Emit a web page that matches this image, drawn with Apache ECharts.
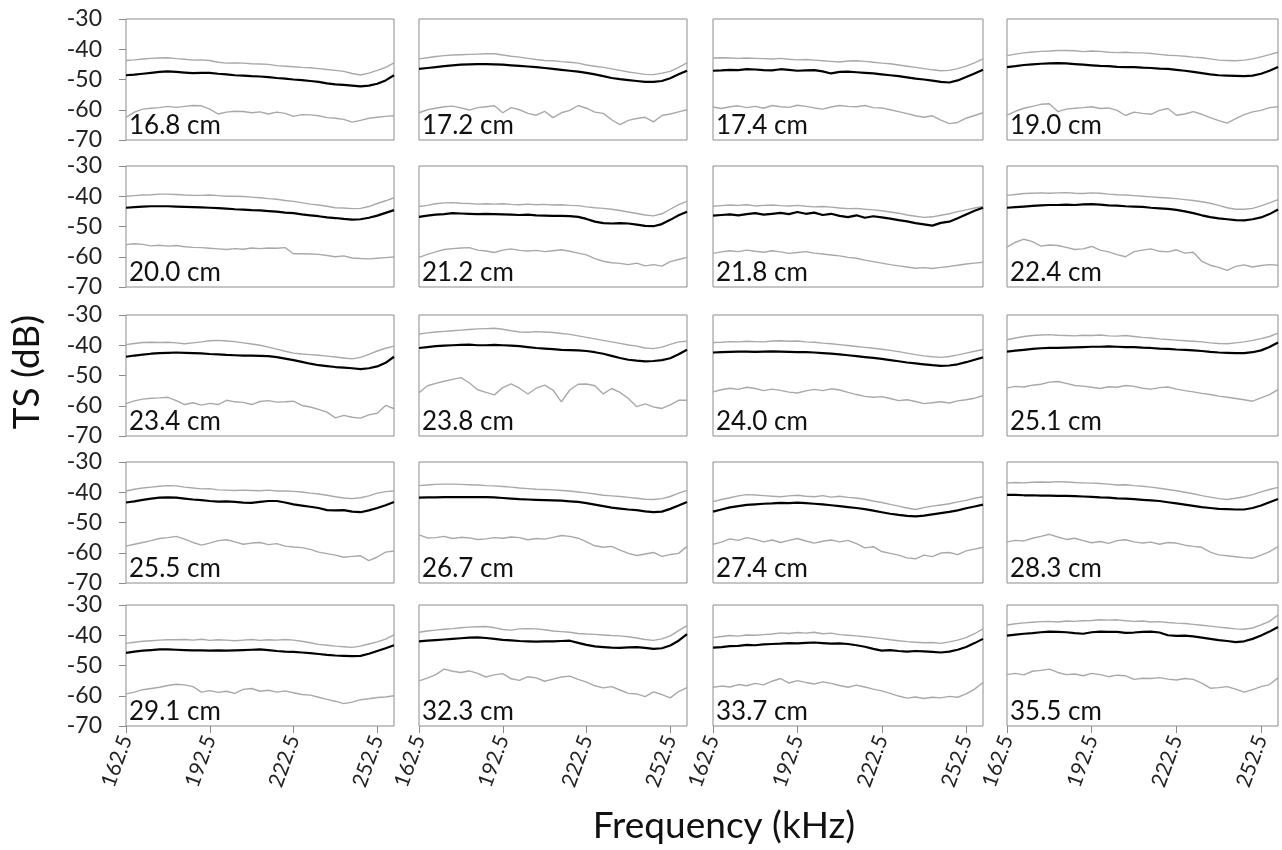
<!DOCTYPE html>
<html>
<head>
<meta charset="utf-8">
<title>TS vs frequency</title>
<script src="https://cdn.jsdelivr.net/npm/echarts@6.0.0/dist/echarts.min.js"></script>
<style>
  html, body { margin: 0; padding: 0; background: #fff; }
  #chart { width: 1282px; height: 850px; }
</style>
</head>
<body>
<div id="chart"></div>
<script>
// frequency categories (kHz), 3 kHz step
var freqs = [162.5,165.5,168.5,171.5,174.5,177.5,180.5,183.5,186.5,189.5,192.5,
  195.5,198.5,201.5,204.5,207.5,210.5,213.5,216.5,219.5,222.5,225.5,
  228.5,231.5,234.5,237.5,240.5,243.5,246.5,249.5,252.5,255.5,258.5];

var lengths = ['16.8 cm','17.2 cm','17.4 cm','19.0 cm','20.0 cm','21.2 cm','21.8 cm','22.4 cm',
  '23.4 cm','23.8 cm','24.0 cm','25.1 cm','25.5 cm','26.7 cm','27.4 cm','28.3 cm',
  '29.1 cm','32.3 cm','33.7 cm','35.5 cm'];

// TS (dB): upper gray, mean (black), lower gray
var up168 = [-43.7,-43.5,-43.2,-43.0,-42.9,-42.8,-43.1,-43.3,-43.6,-43.5,-43.7, -44.3,-44.6,-44.5,-44.6,-44.8,-44.9,-45.0,-45.4,-45.6,-45.8,-46.0, -46.1,-46.4,-46.7,-47.0,-47.3,-48.0,-48.5,-47.9,-47.0,-46.0,-44.5];
var mid168 = [-48.6,-48.4,-48.1,-47.8,-47.5,-47.3,-47.5,-47.7,-47.9,-47.8,-47.8, -48.1,-48.3,-48.6,-48.7,-48.9,-49.0,-49.2,-49.5,-49.7,-50.0,-50.2, -50.5,-50.8,-51.3,-51.6,-51.8,-52.0,-52.3,-52.0,-51.4,-50.3,-48.6];
var low168 = [-62.5,-60.8,-59.8,-59.5,-59.3,-58.9,-59.2,-58.9,-58.6,-58.7,-59.8, -61.4,-60.8,-60.5,-60.6,-61.0,-60.7,-61.4,-60.8,-61.2,-62.2,-61.6, -61.7,-62.0,-62.6,-62.8,-63.2,-64.1,-63.5,-62.8,-62.5,-62.2,-62.0];

var up172 = [-43.2,-42.8,-42.4,-42.1,-41.9,-41.8,-41.7,-41.6,-41.5,-41.5,-41.9, -42.3,-42.6,-43.0,-43.4,-43.7,-43.8,-44.1,-44.3,-44.6,-45.2,-45.6, -46.0,-46.5,-47.0,-47.5,-47.9,-48.3,-48.4,-47.9,-47.3,-46.0,-44.5];
var mid172 = [-46.5,-46.2,-45.9,-45.6,-45.3,-45.1,-45.0,-44.9,-44.9,-45.0,-45.1, -45.3,-45.5,-45.7,-45.9,-46.2,-46.5,-46.8,-47.1,-47.4,-47.8,-48.3, -48.9,-49.5,-49.9,-50.2,-50.5,-50.8,-50.8,-50.5,-49.6,-48.3,-47.1];
var low172 = [-61.0,-60.0,-59.5,-59.0,-58.8,-59.4,-60.1,-59.3,-59.0,-58.7,-61.0, -59.3,-60.0,-61.2,-61.8,-60.5,-62.6,-61.0,-60.2,-58.6,-59.5,-60.8, -61.2,-63.3,-64.9,-63.5,-62.9,-62.5,-64.0,-61.9,-61.4,-60.7,-60.0];

var up174 = [-42.9,-42.8,-42.9,-43.0,-42.9,-43.0,-43.1,-43.2,-43.0,-43.3,-43.5, -43.4,-43.6,-43.8,-44.0,-44.2,-43.9,-43.8,-44.0,-44.3,-44.6,-44.8, -45.2,-45.6,-46.0,-46.4,-46.8,-47.1,-47.0,-46.4,-45.6,-44.5,-43.2];
var mid174 = [-47.1,-47.0,-46.8,-46.9,-46.6,-46.7,-46.9,-47.0,-46.6,-46.8,-47.1, -47.0,-46.9,-47.3,-48.0,-47.5,-47.4,-47.6,-47.8,-48.0,-48.3,-48.6, -48.9,-49.3,-49.7,-50.0,-50.4,-50.8,-51.0,-50.3,-49.2,-48.0,-46.8];
var low174 = [-59.1,-59.6,-59.0,-58.7,-59.3,-58.9,-59.5,-58.6,-59.0,-59.2,-58.5, -58.9,-59.4,-59.8,-59.1,-58.6,-58.9,-59.0,-58.6,-59.3,-59.4,-60.0, -60.6,-61.3,-62.0,-62.5,-62.0,-63.4,-64.6,-64.2,-62.8,-61.9,-61.0];

var up190 = [-42.1,-41.6,-41.2,-40.9,-40.7,-40.6,-40.4,-40.4,-40.5,-40.8,-40.6, -40.7,-41.0,-41.1,-41.0,-41.2,-41.2,-41.4,-41.7,-42.0,-42.1,-42.3, -42.6,-42.8,-43.2,-43.6,-43.7,-43.8,-43.6,-43.2,-42.5,-41.8,-41.0];
var mid190 = [-45.9,-45.6,-45.2,-45.0,-44.8,-44.7,-44.6,-44.7,-44.9,-45.1,-45.3, -45.5,-45.6,-45.8,-45.9,-45.9,-46.1,-46.2,-46.4,-46.5,-46.8,-47.1, -47.5,-47.9,-48.3,-48.6,-48.7,-48.8,-48.9,-48.7,-48.1,-47.1,-45.9];
var low190 = [-61.8,-60.5,-59.5,-58.9,-58.2,-58.0,-60.6,-59.8,-59.5,-59.3,-59.0, -59.6,-59.4,-60.2,-61.9,-60.8,-61.2,-61.5,-60.2,-59.6,-61.8,-61.4, -60.6,-61.5,-62.6,-63.6,-64.4,-62.9,-61.6,-60.7,-60.2,-59.3,-59.0];

var up200 = [-40.0,-39.8,-39.6,-39.5,-39.3,-39.3,-39.4,-39.6,-39.7,-39.7,-39.6, -39.8,-40.0,-40.0,-40.1,-40.3,-40.5,-40.8,-41.0,-41.4,-41.7,-42.1, -42.6,-42.9,-43.3,-43.8,-43.9,-44.1,-44.0,-43.4,-42.4,-41.5,-40.5];
var mid200 = [-43.8,-43.6,-43.4,-43.3,-43.3,-43.3,-43.4,-43.5,-43.6,-43.7,-43.8, -43.9,-44.1,-44.3,-44.4,-44.6,-44.7,-44.9,-45.1,-45.4,-45.6,-46.0, -46.3,-46.6,-47.0,-47.2,-47.5,-47.7,-47.6,-47.1,-46.4,-45.5,-44.6];
var low200 = [-56.0,-55.7,-55.9,-56.4,-56.2,-56.5,-56.3,-56.7,-56.9,-57.0,-57.2, -57.4,-57.6,-57.3,-57.5,-57.1,-57.3,-57.1,-57.2,-57.0,-59.0,-59.0, -59.1,-59.2,-59.6,-60.0,-59.7,-60.4,-60.6,-60.7,-60.5,-60.3,-60.1];

var up212 = [-43.4,-43.0,-42.5,-42.2,-42.1,-42.3,-42.4,-42.6,-42.5,-42.6,-42.5, -42.7,-42.8,-42.6,-42.8,-42.7,-42.9,-42.8,-43.0,-43.1,-43.5,-43.8, -44.0,-44.3,-44.7,-45.2,-45.7,-46.2,-46.5,-45.8,-44.3,-42.8,-41.7];
var mid212 = [-46.8,-46.4,-46.1,-45.9,-45.6,-45.7,-45.8,-45.9,-45.8,-45.9,-46.0, -46.1,-46.2,-46.1,-46.3,-46.4,-46.5,-46.5,-46.6,-46.8,-47.5,-48.4, -48.9,-49.0,-48.9,-49.0,-49.4,-49.8,-49.9,-49.2,-47.8,-46.3,-45.1];
var low212 = [-60.2,-59.2,-58.4,-57.6,-57.3,-57.1,-57.0,-57.8,-58.1,-58.6,-57.8, -57.4,-57.9,-58.1,-57.9,-58.3,-58.0,-57.7,-58.2,-58.8,-59.4,-60.6, -61.5,-62.0,-62.2,-62.6,-62.1,-63.0,-62.6,-63.1,-61.6,-60.9,-60.2];

var up218 = [-43.3,-43.1,-42.9,-43.0,-42.8,-43.2,-43.0,-42.9,-43.1,-43.2,-43.0, -43.3,-43.5,-43.4,-43.6,-43.9,-44.1,-44.0,-44.3,-44.5,-44.8,-45.2, -45.6,-46.2,-46.6,-47.0,-46.8,-46.3,-45.8,-45.1,-44.5,-43.9,-43.4];
var mid218 = [-46.4,-46.2,-46.0,-46.3,-45.9,-45.6,-46.1,-45.8,-45.5,-45.9,-45.2, -45.8,-45.4,-46.2,-45.8,-46.5,-46.9,-46.3,-47.1,-46.6,-47.0,-47.4, -47.9,-48.3,-48.9,-49.3,-49.7,-48.8,-48.4,-47.3,-46.0,-44.8,-43.8];
var low218 = [-58.9,-58.4,-58.0,-58.3,-57.8,-58.2,-58.5,-58.0,-58.4,-58.9,-58.6, -58.3,-58.8,-59.1,-59.4,-59.7,-60.2,-60.5,-61.1,-61.6,-62.1,-62.6, -63.0,-63.4,-63.8,-63.6,-63.9,-63.5,-63.2,-62.8,-62.4,-62.1,-61.8];

var up224 = [-39.7,-39.4,-39.1,-39.0,-38.9,-39.0,-38.9,-38.8,-39.0,-39.1,-38.9, -39.0,-39.3,-39.5,-39.6,-39.8,-40.0,-40.2,-40.4,-40.6,-40.8,-41.1, -41.4,-41.8,-42.3,-43.0,-43.8,-44.3,-44.3,-44.0,-43.2,-42.2,-41.1];
var mid224 = [-43.8,-43.6,-43.4,-43.2,-43.0,-42.9,-42.9,-42.8,-42.9,-42.7,-42.6, -42.8,-43.0,-43.1,-43.3,-43.4,-43.5,-43.8,-44.0,-44.2,-44.5,-45.0, -45.6,-46.3,-46.9,-47.3,-47.6,-47.9,-48.0,-47.6,-47.0,-45.9,-44.4];
var low224 = [-56.8,-55.2,-54.2,-55.0,-56.5,-56.1,-56.3,-56.9,-57.6,-57.4,-56.6, -57.8,-58.4,-59.3,-60.0,-58.3,-57.8,-57.4,-58.2,-58.4,-57.7,-58.8, -58.5,-61.5,-62.8,-63.5,-64.5,-63.2,-62.7,-63.4,-62.9,-62.6,-62.8];

var up234 = [-39.8,-39.4,-39.1,-39.0,-39.1,-39.0,-39.2,-39.5,-39.2,-38.9,-38.5, -38.4,-38.6,-38.8,-39.2,-39.6,-40.0,-40.6,-41.3,-42.0,-42.6,-42.9, -43.1,-43.3,-43.6,-43.9,-44.2,-44.5,-44.0,-43.0,-41.9,-41.0,-40.3];
var mid234 = [-43.8,-43.4,-43.1,-42.8,-42.6,-42.5,-42.4,-42.5,-42.6,-42.7,-42.9, -43.0,-43.2,-43.3,-43.4,-43.4,-43.5,-43.6,-43.9,-44.4,-44.9,-45.5, -46.1,-46.6,-46.9,-47.2,-47.4,-47.6,-47.9,-47.6,-47.0,-45.8,-43.8];
var low234 = [-59.3,-58.4,-57.8,-57.5,-57.4,-57.2,-58.3,-59.6,-59.0,-59.8,-59.2, -59.6,-58.2,-58.7,-58.9,-59.6,-58.6,-58.3,-58.8,-58.7,-58.5,-59.9, -60.4,-61.2,-62.1,-64.0,-63.2,-63.8,-64.1,-63.0,-62.5,-59.9,-61.0];

var up238 = [-36.3,-35.9,-35.6,-35.4,-35.2,-35.0,-34.8,-34.6,-34.5,-34.4,-34.7, -35.2,-35.6,-35.7,-35.5,-35.6,-35.8,-36.1,-36.4,-36.9,-37.4,-37.9, -38.4,-38.9,-39.4,-39.9,-40.3,-40.9,-41.1,-40.6,-39.7,-38.9,-38.7];
var mid238 = [-40.9,-40.6,-40.3,-40.1,-40.0,-39.9,-39.8,-40.0,-40.0,-39.9,-40.0, -40.1,-40.3,-40.6,-40.9,-41.1,-41.3,-41.5,-41.6,-41.7,-41.9,-42.3, -42.8,-43.5,-44.2,-44.8,-45.1,-45.3,-45.2,-44.9,-44.3,-43.0,-41.5];
var low238 = [-55.7,-53.4,-52.6,-51.9,-51.3,-50.7,-52.4,-54.7,-55.6,-56.4,-54.0, -52.8,-54.2,-56.1,-54.2,-53.2,-54.8,-58.7,-54.8,-52.9,-52.8,-53.4, -56.1,-54.3,-55.6,-57.6,-60.3,-59.4,-60.4,-60.9,-59.7,-58.2,-58.2];

var up240 = [-39.1,-39.0,-38.8,-38.9,-38.7,-38.8,-38.9,-38.6,-38.5,-38.7,-38.6, -38.9,-39.0,-39.3,-39.5,-39.8,-40.1,-40.4,-40.7,-41.0,-41.3,-41.7, -42.1,-42.6,-43.1,-43.5,-43.8,-44.0,-43.7,-43.2,-42.6,-42.0,-41.4];
var mid240 = [-42.4,-42.3,-42.2,-42.1,-42.1,-42.2,-42.1,-42.0,-42.1,-42.2,-42.3, -42.3,-42.4,-42.6,-42.8,-43.0,-43.3,-43.6,-43.9,-44.2,-44.5,-44.9, -45.3,-45.7,-46.0,-46.3,-46.6,-46.8,-46.7,-46.3,-45.6,-44.8,-44.0];
var low240 = [-55.4,-54.7,-54.2,-54.6,-53.9,-54.3,-55.0,-54.5,-54.9,-55.5,-55.8, -55.1,-54.6,-55.0,-54.4,-54.8,-55.6,-56.3,-56.9,-57.2,-57.0,-57.6, -58.3,-58.0,-58.6,-59.3,-59.0,-58.7,-59.1,-58.4,-58.0,-57.5,-56.7];

var up251 = [-38.2,-37.6,-37.1,-36.8,-36.6,-36.5,-36.7,-36.8,-36.9,-36.7,-36.8, -36.6,-36.9,-37.0,-36.8,-37.1,-37.4,-37.6,-37.9,-38.1,-38.3,-38.5, -38.7,-38.9,-39.2,-39.4,-39.5,-39.2,-38.9,-38.4,-37.8,-37.1,-36.0];
var mid251 = [-42.1,-41.8,-41.5,-41.2,-41.0,-40.9,-40.9,-40.8,-40.7,-40.6,-40.5, -40.5,-40.4,-40.5,-40.6,-40.6,-40.8,-40.9,-41.1,-41.2,-41.4,-41.5, -41.7,-41.9,-42.2,-42.4,-42.5,-42.6,-42.6,-42.3,-41.7,-40.6,-39.1];
var low251 = [-54.1,-53.6,-53.8,-53.2,-52.9,-52.2,-52.0,-52.6,-53.3,-53.5,-53.9, -54.3,-53.7,-53.9,-53.3,-53.6,-54.2,-54.5,-54.0,-53.8,-54.5,-55.0, -55.4,-55.9,-56.3,-56.8,-57.2,-57.6,-58.0,-58.5,-57.4,-56.3,-54.7];

var up255 = [-39.6,-39.0,-38.6,-38.3,-38.0,-37.8,-37.9,-38.3,-38.6,-38.9,-38.8, -39.2,-39.3,-39.4,-39.3,-39.4,-39.5,-39.3,-39.6,-39.6,-39.7,-39.9, -40.3,-40.6,-41.0,-41.5,-41.9,-42.1,-41.8,-41.2,-40.3,-39.8,-39.6];
var mid255 = [-43.4,-43.0,-42.5,-42.1,-41.8,-41.7,-41.8,-42.1,-42.4,-42.6,-42.9, -43.1,-43.0,-43.2,-43.4,-43.5,-43.2,-42.9,-42.9,-43.4,-44.0,-44.4, -44.8,-45.2,-45.9,-46.0,-45.9,-46.4,-46.6,-46.0,-45.2,-44.3,-43.2];
var low255 = [-57.8,-57.2,-56.6,-56.0,-55.3,-55.0,-54.6,-55.5,-56.6,-57.5,-56.8, -56.0,-55.7,-56.4,-57.2,-56.8,-56.6,-57.3,-57.0,-57.8,-58.1,-58.3, -58.9,-59.8,-60.3,-60.8,-61.5,-61.2,-61.0,-62.6,-61.4,-59.8,-59.4];

var up267 = [-37.8,-37.6,-37.4,-37.3,-37.3,-37.4,-37.5,-37.6,-37.8,-37.9,-38.1, -38.3,-38.6,-38.8,-39.0,-39.1,-39.2,-39.4,-39.6,-39.9,-40.2,-40.6, -41.0,-41.2,-41.4,-41.7,-42.0,-42.3,-42.4,-42.1,-41.4,-40.3,-39.4];
var mid267 = [-41.8,-41.7,-41.7,-41.6,-41.6,-41.6,-41.6,-41.6,-41.6,-41.7,-41.9, -42.1,-42.3,-42.4,-42.5,-42.6,-42.7,-42.8,-43.0,-43.2,-43.6,-44.1, -44.6,-45.1,-45.4,-45.7,-45.9,-46.3,-46.6,-46.4,-45.5,-44.4,-43.2];
var low267 = [-54.1,-55.1,-55.0,-54.6,-55.3,-54.9,-55.1,-55.6,-55.4,-55.0,-55.2, -54.8,-55.0,-55.7,-55.3,-55.5,-54.9,-54.3,-54.6,-55.2,-56.4,-57.7, -58.2,-57.9,-59.1,-60.2,-60.9,-60.4,-59.9,-61.2,-60.6,-60.2,-57.9];

var up274 = [-43.1,-42.4,-41.8,-41.2,-40.8,-40.9,-41.1,-41.3,-41.5,-41.2,-41.0, -41.3,-41.5,-41.1,-41.6,-41.3,-41.7,-41.9,-42.3,-42.9,-43.4,-44.0, -44.6,-45.2,-45.7,-45.1,-44.6,-44.2,-43.8,-43.2,-42.7,-42.0,-41.5];
var mid274 = [-46.4,-45.7,-45.0,-44.6,-44.2,-44.0,-43.8,-43.7,-43.5,-43.6,-43.4, -43.6,-43.8,-44.0,-44.3,-44.6,-44.9,-45.2,-45.6,-46.1,-46.6,-47.1, -47.5,-47.8,-48.0,-47.7,-47.3,-46.9,-46.5,-46.0,-45.3,-44.7,-44.1];
var low274 = [-57.2,-56.5,-55.4,-55.9,-55.0,-55.6,-56.4,-55.8,-56.6,-55.9,-55.3, -56.1,-56.8,-56.2,-55.8,-56.4,-55.9,-57.0,-58.4,-58.0,-59.6,-60.2, -60.8,-61.7,-62.0,-60.8,-61.3,-60.1,-59.9,-60.6,-59.4,-58.8,-58.2];

var up283 = [-37.0,-36.8,-36.9,-36.7,-36.6,-36.7,-36.5,-36.6,-36.8,-36.9,-37.0, -37.1,-37.3,-37.6,-37.5,-37.8,-38.0,-38.3,-38.7,-39.1,-39.5,-40.0, -40.5,-41.1,-41.6,-42.1,-42.4,-42.0,-41.5,-40.8,-39.9,-39.1,-38.4];
var mid283 = [-40.9,-40.9,-41.0,-41.0,-41.1,-41.1,-41.2,-41.2,-41.3,-41.4,-41.5, -41.7,-41.8,-42.0,-42.1,-42.3,-42.5,-42.7,-42.9,-43.3,-43.7,-44.1, -44.5,-44.9,-45.2,-45.5,-45.6,-45.7,-45.7,-45.2,-44.4,-43.3,-42.2];
var low283 = [-56.4,-55.9,-56.1,-55.2,-54.6,-53.9,-54.8,-55.6,-55.2,-56.0,-56.7, -56.3,-56.9,-56.0,-55.7,-56.4,-56.8,-56.5,-57.2,-56.6,-56.8,-57.5, -57.9,-58.2,-59.8,-60.7,-61.0,-61.3,-61.6,-61.8,-60.8,-59.6,-58.0];

var up291 = [-42.7,-42.3,-42.0,-41.8,-41.6,-41.5,-41.5,-41.4,-41.6,-41.3,-41.7, -41.5,-41.6,-41.8,-41.6,-41.4,-41.7,-41.5,-41.6,-41.4,-41.6,-42.0, -42.5,-43.0,-43.3,-43.6,-43.8,-44.0,-43.6,-42.9,-42.2,-41.3,-39.9];
var mid291 = [-45.8,-45.4,-45.1,-44.9,-44.7,-44.7,-44.8,-44.9,-45.0,-45.0,-45.1, -45.0,-45.1,-45.0,-44.9,-44.8,-44.7,-44.9,-45.2,-45.4,-45.5,-45.7, -45.9,-46.2,-46.5,-46.7,-46.8,-46.9,-46.8,-46.1,-45.2,-44.3,-43.3];
var low291 = [-59.4,-58.8,-58.0,-57.6,-57.2,-56.6,-56.2,-56.4,-57.0,-58.8,-58.3, -58.9,-58.5,-59.2,-57.9,-57.6,-58.5,-58.2,-58.8,-58.4,-59.0,-59.6, -59.8,-60.5,-61.2,-61.8,-62.6,-62.1,-61.3,-61.0,-60.6,-60.4,-60.0];

var up323 = [-39.0,-38.6,-38.3,-38.0,-37.8,-37.5,-37.3,-37.2,-37.1,-37.5,-38.1, -38.3,-37.9,-37.8,-37.9,-38.2,-38.6,-38.8,-39.0,-39.4,-39.6,-39.7, -39.9,-40.1,-40.2,-40.5,-40.9,-41.4,-41.7,-41.2,-40.2,-38.5,-36.8];
var mid323 = [-42.0,-41.8,-41.6,-41.4,-41.2,-41.0,-40.8,-40.7,-40.9,-41.2,-41.5, -41.7,-41.9,-42.0,-42.1,-42.0,-42.0,-41.9,-41.8,-42.5,-43.2,-43.7, -43.9,-44.1,-44.2,-44.0,-43.9,-44.2,-44.5,-44.3,-43.4,-41.8,-39.6];
var low323 = [-55.1,-54.2,-53.0,-51.2,-51.9,-52.3,-51.8,-52.6,-53.8,-53.1,-52.7, -54.4,-54.9,-53.7,-54.1,-55.2,-54.5,-53.8,-53.5,-54.6,-55.5,-56.7, -57.4,-57.0,-58.1,-59.2,-59.4,-60.3,-58.7,-59.6,-60.7,-58.6,-57.3];

var up337 = [-40.8,-40.4,-40.1,-40.3,-39.9,-40.0,-39.8,-39.6,-39.2,-39.4,-39.1, -39.3,-39.0,-39.5,-39.3,-39.8,-40.0,-40.2,-40.5,-40.8,-41.1,-41.5, -41.8,-42.1,-42.3,-42.5,-42.4,-42.7,-42.2,-41.6,-40.8,-39.5,-37.9];
var mid337 = [-44.1,-43.9,-43.6,-43.5,-43.2,-43.3,-43.0,-42.9,-42.8,-42.6,-42.7, -42.5,-42.4,-42.6,-42.8,-42.7,-42.9,-43.3,-43.8,-44.5,-45.1,-44.9, -45.2,-45.4,-45.2,-45.3,-45.5,-45.7,-45.4,-44.8,-43.9,-42.6,-41.2];
var low337 = [-57.2,-56.8,-57.1,-56.3,-56.7,-55.9,-56.4,-55.2,-54.3,-55.8,-55.0, -55.6,-56.1,-55.4,-55.9,-56.6,-57.2,-56.5,-57.1,-57.8,-58.4,-59.2, -60.1,-60.8,-60.4,-60.9,-60.5,-60.7,-60.2,-60.5,-59.4,-57.8,-55.6];

var up355 = [-36.6,-36.2,-35.9,-35.7,-35.5,-35.4,-35.6,-35.3,-35.4,-35.2,-35.1, -34.9,-35.0,-34.9,-35.2,-35.4,-35.3,-35.6,-35.5,-35.8,-36.0,-36.1, -36.4,-36.7,-37.0,-37.3,-37.6,-37.9,-38.0,-37.6,-36.6,-35.4,-33.3];
var mid355 = [-40.1,-39.8,-39.5,-39.3,-39.0,-38.8,-38.9,-39.0,-39.3,-39.5,-39.0, -38.8,-38.9,-38.9,-39.2,-39.1,-38.9,-38.8,-39.1,-40.0,-40.2,-40.1, -40.4,-40.8,-41.2,-41.6,-41.9,-42.3,-42.0,-41.2,-40.1,-38.8,-37.3];
var low355 = [-53.0,-52.6,-53.1,-51.9,-51.6,-51.2,-52.3,-53.0,-52.8,-53.4,-52.6, -53.0,-53.7,-53.2,-53.4,-54.6,-54.2,-54.3,-54.0,-54.5,-54.8,-54.3, -54.6,-55.8,-57.5,-57.3,-57.0,-57.8,-58.8,-58.0,-57.0,-56.3,-54.1];

var panels = [
  [up168, mid168, low168], [up172, mid172, low172], [up174, mid174, low174], [up190, mid190, low190],
  [up200, mid200, low200], [up212, mid212, low212], [up218, mid218, low218], [up224, mid224, low224],
  [up234, mid234, low234], [up238, mid238, low238], [up240, mid240, low240], [up251, mid251, low251],
  [up255, mid255, low255], [up267, mid267, low267], [up274, mid274, low274], [up283, mid283, low283],
  [up291, mid291, low291], [up323, mid323, low323], [up337, mid337, low337], [up355, mid355, low355]
];

// layout of the 5 x 4 small multiples
var colLeft = [126, 419, 713, 1007];
var colWidth = [268, 268, 270, 271];
var rowTop = [19, 166, 315, 462, 605];
var rowHeight = 121;

var FONT = 'Lato, "Open Sans", sans-serif';
var frame = '#8c8c8c';
var gray = '#a9a9a9';

var chart = echarts.init(document.getElementById('chart'), null, { renderer: 'canvas' });

var grids = [], xAxes = [], yAxes = [], series = [], graphics = [];
var cats = freqs.map(function (f) { return f.toFixed(1); });

panels.forEach(function (lines, i) {
  var row = Math.floor(i / 4), col = i % 4;
  var bottomRow = row === 4, leftCol = col === 0;
  var left = colLeft[col], top = rowTop[row];

  grids.push({
    left: left, top: top, width: colWidth[col], height: rowHeight,
    show: true, borderColor: frame, borderWidth: 1, backgroundColor: 'transparent'
  });

  xAxes.push({
    gridIndex: i, type: 'category', data: cats, boundaryGap: false,
    axisLine: { show: false },
    axisTick: { show: bottomRow, interval: 9, length: 7, lineStyle: { color: frame } },
    axisLabel: { show: bottomRow, interval: 9, rotate: 70, margin: 10, fontSize: 21, fontFamily: FONT, color: '#222' },
    splitLine: { show: false }
  });

  yAxes.push({
    gridIndex: i, type: 'value', min: -70, max: -30, interval: 10,
    axisLine: { show: false },
    axisTick: { show: leftCol, length: 7, lineStyle: { color: frame } },
    axisLabel: { show: leftCol, margin: 24, fontSize: 23, fontFamily: FONT, color: '#222' },
    splitLine: { show: false }
  });

  var styles = [
    { color: gray, width: 1.4 },
    { color: '#000', width: 2.2 },
    { color: gray, width: 1.4 }
  ];
  lines.forEach(function (d, j) {
    series.push({
      type: 'line', xAxisIndex: i, yAxisIndex: i, data: d,
      showSymbol: false, symbol: 'none', silent: true,
      lineStyle: styles[j], z: j === 1 ? 3 : 2
    });
  });

  graphics.push({
    type: 'text', x: left + 3, y: top + 107,
    style: { text: lengths[i], fill: '#111', font: '26px ' + FONT, align: 'left', verticalAlign: 'middle' }
  });
});

graphics.push({
  type: 'text', x: 27, y: 372, rotation: Math.PI / 2,
  style: { text: 'TS (dB)', fill: '#111', font: '37px ' + FONT, align: 'center', verticalAlign: 'middle' }
});
graphics.push({
  type: 'text', x: 724, y: 826,
  style: { text: 'Frequency (kHz)', fill: '#111', font: '37px ' + FONT, align: 'center', verticalAlign: 'middle' }
});

chart.setOption({
  animation: false,
  backgroundColor: '#fff',
  grid: grids,
  xAxis: xAxes,
  yAxis: yAxes,
  series: series,
  graphic: graphics
});

window.addEventListener('resize', function () { chart.resize(); });
</script>
</body>
</html>
